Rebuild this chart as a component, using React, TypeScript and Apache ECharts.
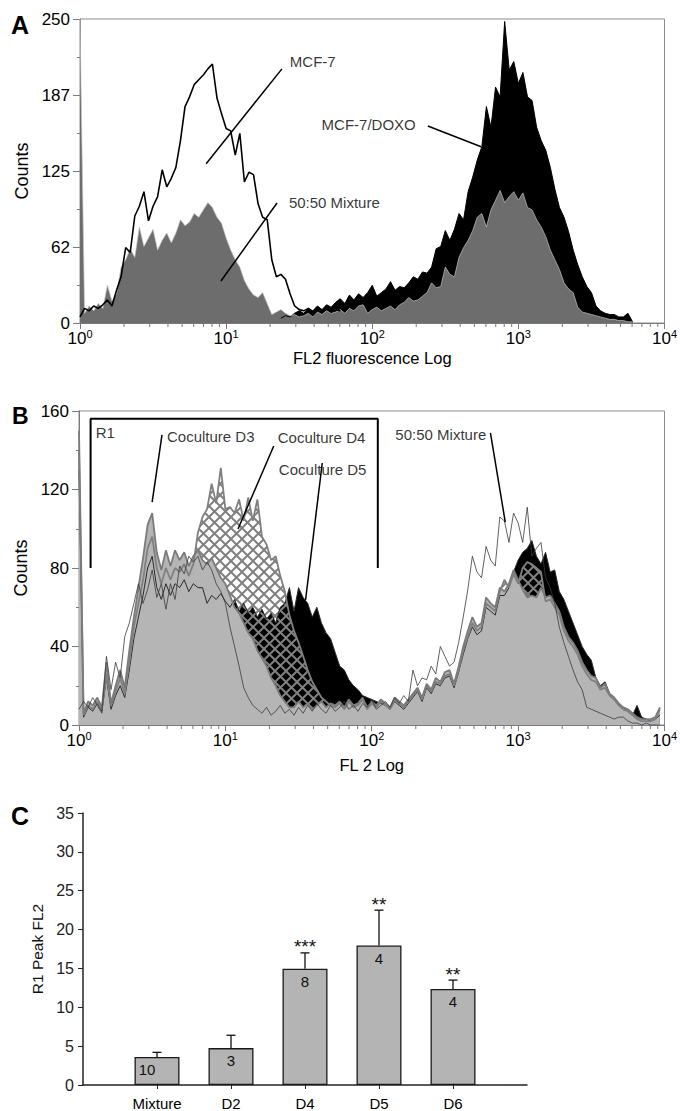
import React, { useEffect, useRef } from 'react';
import * as echarts from 'echarts';

const FONT = '"Liberation Sans", Arial, Helvetica, sans-serif';
const CH_PER_DECADE = 32; // histogram channels per log decade
const DECADE_TICKS = [0, 1, 2, 3, 4];
const MINOR_MULTIPLIERS = [2, 3, 4, 5, 6, 7, 8, 9];

// ---------- Panel A : counts per channel ----------
const aMcf7Start = 0;
const aMcf7Counts = [
  5, 12, 10, 14, 12, 15, 19, 14, 27, 38,
  62, 58, 88, 96, 108, 84, 96, 104, 126, 112,
  119, 128, 150, 178, 186, 196, 200, 204, 209, 213,
  185, 172, 160, 158, 138, 156, 116, 124, 122, 98,
  87, 85, 52, 38, 40, 36, 24, 14, 11, 10,
  12, 9, 13, 10, 12, 9, 11, 10,
];
const aDoxoStart = 44;
const aDoxoCounts = [
  4, 6, 5, 8, 10, 8, 12, 10, 14, 11,
  15, 13, 17, 20, 16, 23, 19, 24, 21, 25,
  31, 22, 25, 28, 34, 27, 30, 29, 33, 38,
  36, 42, 41, 46, 61, 63, 76, 68, 77, 90,
  85, 108, 120, 134, 145, 178, 161, 194, 186, 248,
  208, 215, 197, 206, 186, 183, 161, 150, 142, 128,
  110, 95, 87, 75, 60, 48, 38, 30, 25, 14,
  10, 8, 7, 7, 5, 5, 8, 1,
];
const aMixStart = 0;
const aMixCounts = [
  250, 8, 14, 10, 16, 12, 31, 18, 24, 46,
  52, 61, 54, 79, 63, 70, 77, 60, 68, 74,
  66, 74, 85, 80, 83, 90, 87, 93, 99, 95,
  87, 82, 70, 60, 52, 46, 35, 28, 23, 21,
  25, 16, 7, 9, 11, 8, 6, 7, 5, 6,
  8, 5, 9, 7, 10, 8, 9, 11, 8, 12,
  10, 14, 15, 8, 11, 13, 10, 12, 14, 11,
  15, 17, 21, 18, 19, 22, 25, 33, 29, 30,
  46, 40, 38, 54, 62, 68, 76, 87, 90, 79,
  93, 101, 109, 99, 104, 108, 101, 107, 95, 93,
  85, 79, 71, 60, 52, 44, 33, 28, 25, 13,
  9, 8, 7, 6, 5, 4, 3, 3, 2, 2,
  1, 1,
];
const aAnnotations = [
  { text: 'MCF-7', at: [27.3, 215], from: [7.3, 131], to: [24.1, 209] },
  { text: '50:50 Mixture', at: [26.9, 99], from: [9.22, 34.5], to: [22.3, 98.7] },
  { text: 'MCF-7/DOXO', at: [45, 163], from: [240, 162], to: [556, 145] },
];

// ---------- Panel B : counts per channel ----------
const bD3Counts = [
  150, 6, 12, 10, 14, 9, 32, 11, 20, 28,
  19, 38, 55, 70, 85, 102, 108, 88, 79, 89,
  81, 89, 84, 88, 81, 86, 89, 84, 82, 85,
  80, 75, 72, 66, 60, 57, 52, 47, 44, 38,
  34, 30, 24, 20, 15, 12, 9, 9, 12, 9,
  11, 8, 10, 12, 9, 11, 10, 12, 9, 13,
  10, 11, 14, 9, 12, 10, 13, 11, 9, 14,
  12, 10, 13, 16, 19, 14, 21, 18, 24, 22,
  27, 28, 21, 30, 40, 48, 55, 50, 52, 65,
  62, 60, 70, 68, 72, 79, 74, 69, 65, 66,
  65, 70, 65, 66, 62, 58, 50, 45, 42, 38,
  32, 28, 25, 24, 19, 21, 16, 14, 11, 9,
  8, 6, 4, 3, 3, 3, 4, 9,
];
const bD4Counts = [
  140, 5, 10, 8, 12, 8, 26, 10, 17, 24,
  16, 32, 50, 62, 74, 90, 96, 80, 72, 80,
  74, 80, 78, 82, 76, 82, 98, 106, 110, 123,
  113, 131, 110, 111, 108, 115, 104, 116, 104, 115,
  96, 92, 84, 86, 76, 68, 56, 48, 42, 35,
  28, 22, 18, 14, 12, 10, 9, 11, 8, 12,
  9, 10, 13, 8, 11, 9, 12, 10, 8, 13,
  11, 9, 12, 15, 18, 13, 20, 17, 22, 21,
  25, 26, 20, 28, 38, 45, 52, 48, 50, 62,
  60, 58, 68, 74, 70, 77, 72, 80, 83, 82,
  80, 78, 63, 64, 60, 56, 48, 43, 40, 36,
  30, 26, 23, 22, 18, 19, 15, 13, 10, 8,
  7, 5, 3, 2, 2, 2, 3, 8,
];
const bD5Counts = [
  130, 4, 9, 7, 11, 7, 24, 8, 15, 20,
  14, 28, 44, 55, 66, 80, 86, 70, 64, 72,
  66, 72, 70, 74, 68, 72, 70, 70, 62, 66,
  64, 67, 63, 60, 64, 58, 62, 57, 60, 55,
  59, 54, 57, 52, 60, 62, 70, 58, 70, 65,
  62, 55, 60, 52, 47, 44, 37, 30, 28, 23,
  20, 18, 15, 14, 13, 12, 11, 10, 8, 12,
  10, 8, 11, 14, 17, 12, 19, 16, 21, 20,
  24, 25, 19, 27, 36, 44, 50, 46, 48, 60,
  58, 56, 66, 66, 70, 78, 84, 88, 90, 94,
  86, 82, 88, 78, 79, 68, 64, 58, 52, 46,
  40, 36, 33, 24, 20, 22, 16, 13, 11, 9,
  7, 5, 10, 4, 3, 2, 3, 5,
];
const bMixCounts = [
  8, 12, 9, 14, 10, 6, 35, 18, 32, 24,
  45, 52, 62, 72, 62, 69, 79, 65, 72, 59,
  72, 64, 81, 77, 86, 83, 86, 79, 83, 79,
  72, 68, 62, 50, 40, 30, 19, 14, 10, 8,
  6, 9, 5, 7, 10, 6, 8, 5, 9, 6,
  10, 7, 11, 8, 6, 10, 7, 9, 12, 8,
  10, 7, 11, 9, 13, 8, 10, 12, 9, 14,
  11, 15, 12, 28, 20, 24, 23, 30, 26, 40,
  35, 30, 32, 42, 55, 69, 86, 78, 75, 91,
  84, 81, 106, 104, 93, 108, 103, 93, 111, 86,
  90, 93, 75, 70, 62, 50, 42, 35, 28, 22,
  18, 9, 8, 7, 6, 5, 4, 3, 4, 4,
  2, 1, 1, 0, 1, 0, 0, 0,
];
const bGateR1 = [[1.2, 80], [1.2, 156], [110, 156], [110, 80]];
const bAnnotations = [
  { text: 'Coculture D3', at: [3.99, 147], from: [3.16, 113.6], to: [3.69, 147.8] },
  { text: 'Coculture D4', at: [22.8, 146.5], from: [12.2, 99.9], to: [21.4, 142.2] },
  { text: 'Coculture D5', at: [23.2, 130], from: [35.3, 63.7], to: [45.9, 133.5] },
  { text: '50:50 Mixture', at: [145, 148], from: [817, 103.4], to: [647, 148.8] },
];

// ---------- Panel C ----------
const cGroups = ['Mixture', 'D2', 'D4', 'D5', 'D6'];
const cPeakMeans = [3.6, 4.75, 14.95, 17.95, 12.35];
const cPeakUpper = [4.2, 6.4, 17.0, 22.5, 13.5];
const cN = [10, 3, 8, 4, 4];
const cStars = ['', '', '***', '**', '**'];

const toXY = (start: number, counts: number[]) =>
  counts.map((c, i) => [(start + i) / CH_PER_DECADE, c]);
const lg = (p: number[]) => [Math.log10(p[0]), p[1]];

function makeHatch() {
  const c = document.createElement('canvas');
  c.width = 11;
  c.height = 11;
  const ctx = c.getContext('2d')!;
  ctx.strokeStyle = '#808080';
  ctx.lineWidth = 2;
  ctx.beginPath();
  ctx.moveTo(-2, -2);
  ctx.lineTo(13, 13);
  ctx.moveTo(13, -2);
  ctx.lineTo(-2, 13);
  ctx.stroke();
  return c;
}

const minorTickPositions: number[][] = [];
for (let k = 0; k < 4; k++) {
  for (const m of MINOR_MULTIPLIERS) minorTickPositions.push([k + Math.log10(m), 0]);
}

const logXAxis = (gridIndex: number, name: string, nameGap: number) => ({
  gridIndex,
  type: 'value',
  min: 0,
  max: 4,
  interval: 1,
  axisLine: { show: true, lineStyle: { color: '#7a7a7a', width: 1 } },
  axisTick: { show: true, length: 6, lineStyle: { color: '#7a7a7a' } },
  splitLine: { show: false },
  axisLabel: {
    margin: 5,
    formatter: (v: number) => (DECADE_TICKS.includes(v) ? `{b|10}{s|${v}}` : ''),
    rich: {
      b: { fontSize: 17, fontFamily: FONT, color: '#000', lineHeight: 20 },
      s: { fontSize: 11, fontFamily: FONT, color: '#000', verticalAlign: 'top', lineHeight: 20 },
    },
  },
  name,
  nameLocation: 'middle',
  nameGap,
  nameTextStyle: { fontSize: 16.5, fontFamily: FONT, color: '#000' },
});

const minorTickSeries = (idx: number) => ({
  type: 'custom',
  xAxisIndex: idx,
  yAxisIndex: idx,
  clip: false,
  silent: true,
  z: 5,
  data: minorTickPositions,
  encode: { x: 0, y: 1 },
  renderItem: (_p: any, api: any) => {
    const pt = api.coord([api.value(0), 0]);
    return {
      type: 'line',
      shape: { x1: pt[0], y1: pt[1], x2: pt[0], y2: pt[1] + 4 },
      style: { stroke: '#7a7a7a', lineWidth: 1 },
    };
  },
});

const leaderSeries = (idx: number, anns: any[]) =>
  anns.map((a) => ({
    type: 'line',
    xAxisIndex: idx,
    yAxisIndex: idx,
    silent: true,
    symbol: 'none',
    z: 6,
    lineStyle: { color: '#000', width: 1.5 },
    data: [lg(a.from), lg(a.to)],
  }));

const labelSeries = (idx: number, anns: any[]) => ({
  type: 'scatter',
  xAxisIndex: idx,
  yAxisIndex: idx,
  silent: true,
  symbolSize: 0,
  z: 7,
  data: anns.map((a) => ({ value: lg(a.at), name: a.text })),
  label: {
    show: true,
    position: 'right',
    distance: 0,
    formatter: '{b}',
    fontSize: 15,
    fontFamily: FONT,
    color: '#000',
  },
});

const areaSeries = (idx: number, name: string, data: number[][], fill: any, line: any) => ({
  type: 'line',
  name,
  xAxisIndex: idx,
  yAxisIndex: idx,
  symbol: 'none',
  showSymbol: false,
  silent: true,
  data,
  lineStyle: line,
  areaStyle: { color: fill, opacity: 1 },
});

export default function App() {
  const ref = useRef<HTMLDivElement>(null);

  useEffect(() => {
    if (!ref.current) return;
    const chart = echarts.init(ref.current, undefined, { renderer: 'svg' });
    const hatch = makeHatch();

    const option: any = {
      animation: false,
      backgroundColor: '#fff',
      textStyle: { fontFamily: FONT },
      grid: [
        { left: 80, top: 19, width: 593, height: 304, show: true, borderColor: '#8c8c8c', borderWidth: 1 },
        { left: 79, top: 411, width: 592, height: 314, show: true, borderColor: '#8c8c8c', borderWidth: 1 },
        { left: 83, top: 813, width: 444, height: 273 },
      ],
      xAxis: [
        logXAxis(0, 'FL2 fluorescence Log', 26),
        logXAxis(1, 'FL 2 Log', 31),
        {
          gridIndex: 2,
          type: 'category',
          data: ['', ...cGroups, ''],
          boundaryGap: false,
          axisLine: { lineStyle: { color: '#222', width: 1.5 } },
          axisTick: {
            show: true,
            length: 4,
            interval: (i: number) => i > 0 && i < cGroups.length + 1,
            lineStyle: { color: '#222' },
          },
          axisLabel: { interval: 0, fontSize: 15, fontFamily: FONT, color: '#000', margin: 11 },
          splitLine: { show: false },
        },
      ],
      yAxis: [
        {
          gridIndex: 0,
          type: 'value',
          min: 0,
          max: 250,
          interval: 62.5,
          axisLine: { show: true, lineStyle: { color: '#7a7a7a' } },
          axisTick: { show: true, length: 7, lineStyle: { color: '#7a7a7a' } },
          minorTick: { show: true, splitNumber: 2, length: 3, lineStyle: { color: '#7a7a7a' } },
          splitLine: { show: false },
          minorSplitLine: { show: false },
          axisLabel: { formatter: (v: number) => String(Math.floor(v)), fontSize: 17, fontFamily: FONT, color: '#000', margin: 10 },
          name: 'Counts',
          nameLocation: 'middle',
          nameGap: 38,
          nameTextStyle: { fontSize: 18, fontFamily: FONT, color: '#000' },
        },
        {
          gridIndex: 1,
          type: 'value',
          min: 0,
          max: 160,
          interval: 40,
          axisLine: { show: true, lineStyle: { color: '#7a7a7a' } },
          axisTick: { show: true, length: 7, lineStyle: { color: '#7a7a7a' } },
          minorTick: { show: true, splitNumber: 2, length: 3, lineStyle: { color: '#7a7a7a' } },
          splitLine: { show: false },
          minorSplitLine: { show: false },
          axisLabel: { fontSize: 17, fontFamily: FONT, color: '#000', margin: 10 },
          name: 'Counts',
          nameLocation: 'middle',
          nameGap: 42,
          nameTextStyle: { fontSize: 18, fontFamily: FONT, color: '#000' },
        },
        {
          gridIndex: 2,
          type: 'value',
          min: 0,
          max: 35,
          interval: 5,
          axisLine: { show: true, lineStyle: { color: '#222', width: 1.5 } },
          axisTick: { show: true, length: 5, lineStyle: { color: '#222' } },
          splitLine: { show: false },
          axisLabel: { fontSize: 16, fontFamily: FONT, color: '#222', margin: 9 },
          name: 'R1 Peak FL2',
          nameLocation: 'middle',
          nameGap: 37,
          nameTextStyle: { fontSize: 15.5, fontFamily: FONT, color: '#111' },
        },
      ],
      graphic: [
        { type: 'text', left: 11, top: 12, style: { text: 'A', font: `bold 25px ${FONT}`, fill: '#000' } },
        { type: 'text', left: 12, top: 404, style: { text: 'B', font: `bold 23px ${FONT}`, fill: '#000' } },
        { type: 'text', left: 11, top: 803, style: { text: 'C', font: `bold 25px ${FONT}`, fill: '#000' } },
      ],
      series: [
        // ----- Panel A -----
        minorTickSeries(0),
        areaSeries(0, 'MCF-7/DOXO', toXY(aDoxoStart, aDoxoCounts), '#000', { color: '#000', width: 1 }),
        areaSeries(0, '50:50 Mixture', toXY(aMixStart, aMixCounts), '#6d6d6d', { color: '#c4c4c4', width: 0.7 }),
        {
          type: 'line',
          name: 'MCF-7',
          xAxisIndex: 0,
          yAxisIndex: 0,
          symbol: 'none',
          silent: true,
          data: toXY(aMcf7Start, aMcf7Counts),
          lineStyle: { color: '#000', width: 1.6 },
        },
        ...leaderSeries(0, aAnnotations),
        labelSeries(0, aAnnotations),

        // ----- Panel B -----
        minorTickSeries(1),
        areaSeries(1, 'Coculture D5', toXY(0, bD5Counts), '#000', { color: '#2a2a2a', width: 1 }),
        areaSeries(1, 'Coculture D4', toXY(0, bD4Counts), { image: hatch, repeat: 'repeat' }, { color: '#808080', width: 1.8 }),
        areaSeries(1, 'Coculture D3', toXY(0, bD3Counts), '#b5b5b5', { color: '#7b7b7b', width: 1.8 }),
        {
          type: 'line',
          name: '50:50 Mixture',
          xAxisIndex: 1,
          yAxisIndex: 1,
          symbol: 'none',
          silent: true,
          data: toXY(0, bMixCounts),
          lineStyle: { color: '#3a3a3a', width: 0.8 },
        },
        {
          type: 'line',
          name: 'R1',
          xAxisIndex: 1,
          yAxisIndex: 1,
          symbol: 'none',
          silent: true,
          z: 6,
          data: bGateR1.map(lg),
          lineStyle: { color: '#000', width: 2 },
        },
        ...leaderSeries(1, bAnnotations),
        labelSeries(1, [...bAnnotations, { text: 'R1', at: [1.3, 149] }]),

        // ----- Panel C -----
        {
          type: 'bar',
          xAxisIndex: 2,
          yAxisIndex: 2,
          barWidth: 45,
          silent: true,
          data: ['-', ...cPeakMeans.map((v, k) => (k === 0 ? { value: v, label: { offset: [-10, 0] } } : v)), '-'],
          itemStyle: { color: '#b4b4b4', borderColor: '#1a1a1a', borderWidth: 1.3 },
          label: {
            show: true,
            position: 'insideTop',
            distance: 5,
            formatter: (p: any) => String(cN[p.dataIndex - 1]),
            fontSize: 15,
            fontFamily: FONT,
            color: '#111',
          },
        },
        {
          type: 'custom',
          xAxisIndex: 2,
          yAxisIndex: 2,
          silent: true,
          clip: false,
          z: 5,
          data: cGroups.map((_g, k) => [k + 1, cPeakMeans[k], cPeakUpper[k]]),
          encode: { x: 0, y: [1, 2] },
          renderItem: (params: any, api: any) => {
            const i = api.value(0);
            const base = api.coord([i, api.value(1)]);
            const top = api.coord([i, api.value(2)]);
            const star = cStars[params.dataIndex];
            return {
              type: 'group',
              children: [
                { type: 'line', shape: { x1: base[0], y1: base[1], x2: top[0], y2: top[1] }, style: { stroke: '#111', lineWidth: 1.3 } },
                { type: 'line', shape: { x1: top[0] - 4.5, y1: top[1], x2: top[0] + 4.5, y2: top[1] }, style: { stroke: '#111', lineWidth: 1.3 } },
                {
                  type: 'text',
                  style: { text: star, x: top[0], y: top[1] - 6, align: 'center', verticalAlign: 'middle', font: `19px ${FONT}`, fill: '#111' },
                },
              ],
            };
          },
        },
      ],
    };

    chart.setOption(option);
    return () => chart.dispose();
  }, []);

  return (
    <div
      ref={ref}
      style={{ position: 'absolute', left: 0, top: 0, width: 680, height: 1111, background: '#fff' }}
    />
  );
}
